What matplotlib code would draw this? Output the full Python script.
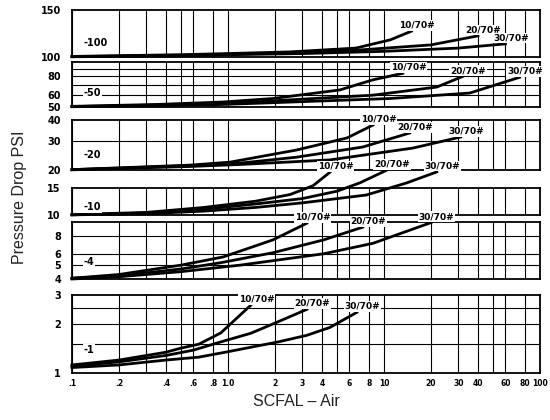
import matplotlib.pyplot as plt
from matplotlib.ticker import FixedLocator, NullFormatter, NullLocator

# curve names (same three in each band)
curve_labels = ['10/70#', '20/70#', '30/70#']

# x axis (log, SCFM air)
x_ticks = [0.1, 0.2, 0.4, 0.6, 0.8, 1, 2, 3, 4, 6, 8, 10, 20, 30, 40, 60, 80, 100]
x_tick_labels = ['.1', '.2', '.4', '.6', '.8', '1.0', '2', '3', '4', '6', '8',
                 '10', '20', '30', '40', '60', '80', '100']

# band 1 (top) : 100 - 150 psi
p1_range = (100, 150)
p1_ticks = [100, 150]
p1_grid = []
p1_name = '100'
p1_x = [[0.1, 0.5, 1.0, 2.5, 6.6, 11, 15],
        [0.1, 0.5, 1.0, 2.5, 6.6, 20, 40],
        [0.1, 0.5, 1.0, 3, 10, 30, 60]]
p1_y = [[100.5, 102, 103, 104.5, 108, 116, 125],
        [100.3, 101.5, 102.5, 103.5, 106, 111, 120],
        [100.2, 101, 102, 103, 105, 108, 112]]

# band 2 : 50 - 100
p2_range = (50, 100)
p2_ticks = [50, 60, 80]
p2_grid = [60, 70, 80, 90]
p2_name = '50'
p2_x = [[0.1, 0.35, 0.93, 1.94, 5.2, 8.5, 13.2],
        [0.1, 0.35, 0.93, 1.94, 8.5, 21.8, 31.9],
        [0.1, 0.35, 0.93, 2, 11, 35.5, 74]]
p2_y = [[50.5, 52, 54, 57, 65, 76, 84],
        [50.3, 51.5, 53, 55, 60, 68, 80],
        [50.2, 51, 52, 53.5, 57, 62, 79]]

# band 3 : 20 - 40
p3_range = (20, 40)
p3_ticks = [20, 30, 40]
p3_grid = [30]
p3_name = '20'
p3_x = [[0.1, 0.57, 1.03, 2.76, 5.8, 8.5],
        [0.1, 0.57, 1.2, 2.76, 7.3, 14.6],
        [0.1, 0.57, 1.2, 4.5, 15.3, 31]]
p3_y = [[20.1, 21.4, 22.3, 26.4, 31.2, 37.3],
        [20.1, 21.2, 22.0, 23.9, 27.5, 33.4],
        [20.05, 21.0, 21.6, 23.0, 27.1, 31.6]]

# band 4 : 10 - 15
p4_range = (10, 15)
p4_ticks = [10, 15]
p4_grid = []
p4_name = '10'
p4_x = [[0.1, 0.3, 0.7, 1.5, 2.5, 3.5, 4.5],
        [0.1, 0.3, 0.7, 1.5, 3.0, 5.0, 7.0, 10.4],
        [0.1, 0.3, 0.7, 1.5, 3.0, 7.7, 14, 21.8]]
p4_y = [[10.05, 10.4, 11.2, 12.3, 13.6, 15.5, 19],
        [10.03, 10.3, 10.9, 11.8, 12.8, 14.3, 16.2, 19.6],
        [10.02, 10.2, 10.6, 11.2, 12.0, 13.5, 16.2, 19.1]]

# band 5 : 4 - 10
p5_range = (4, 10)
p5_ticks = [4, 5, 6, 8]
p5_grid = [5, 6, 8]
p5_name = '4'
p5_x = [[0.1, 0.2, 0.5, 0.93, 1.94, 3.2],
        [0.1, 0.2, 0.5, 0.9, 1.94, 4.1, 7.3],
        [0.1, 0.2, 0.5, 1.2, 4.1, 8.5, 20]]
p5_y = [[4.05, 4.3, 5.0, 5.7, 7.5, 9.8],
        [4.05, 4.2, 4.7, 5.2, 6.1, 7.5, 9.2],
        [4.0, 4.15, 4.5, 5.0, 6.0, 7.1, 9.9]]

# band 6 (bottom) : 1 - 3
p6_range = (1, 3)
p6_ticks = [1, 2, 3]
p6_grid = [1.5, 2, 2.5]
p6_name = '1'
p6_x = [[0.1, 0.2, 0.4, 0.5, 0.65, 0.9, 1.1, 1.4],
        [0.1, 0.2, 0.4, 0.6, 0.9, 1.4, 2.0, 3.2],
        [0.1, 0.2, 0.4, 0.65, 1.0, 2.1, 3.2, 4.5, 6.7]]
p6_y = [[1.12, 1.2, 1.34, 1.42, 1.5, 1.76, 2.1, 2.6],
        [1.1, 1.17, 1.28, 1.38, 1.55, 1.75, 2.02, 2.45],
        [1.08, 1.12, 1.2, 1.25, 1.35, 1.55, 1.7, 1.9, 2.35]]

panels = [
    (p1_range, p1_ticks, p1_grid, p1_name, p1_x, p1_y),
    (p2_range, p2_ticks, p2_grid, p2_name, p2_x, p2_y),
    (p3_range, p3_ticks, p3_grid, p3_name, p3_x, p3_y),
    (p4_range, p4_ticks, p4_grid, p4_name, p4_x, p4_y),
    (p5_range, p5_ticks, p5_grid, p5_name, p5_x, p5_y),
    (p6_range, p6_ticks, p6_grid, p6_name, p6_x, p6_y),
]

# pixel extents of each band (top, bottom) in a 550x420 canvas
W, H = 550, 420
left_px, right_px = 72, 540
bands_px = [(10, 57), (62, 107), (120, 170), (188, 215), (222, 279), (295, 373)]

fig = plt.figure(figsize=(5.5, 4.2), dpi=100)

for i, ((y0, y1), yt, yg, name, xs, ys) in enumerate(panels):
    top, bot = bands_px[i]
    ax = fig.add_axes([left_px / W, 1 - bot / H, (right_px - left_px) / W, (bot - top) / H])
    ax.set_xscale('log')
    ax.set_yscale('log')
    ax.set_xlim(0.1, 100)
    ax.set_ylim(y0, y1)

    # chart paper grid
    ax.xaxis.set_major_locator(FixedLocator(x_ticks))
    ax.xaxis.set_minor_locator(FixedLocator([0.3, 0.5, 5, 50]))
    ax.grid(True, which='both', axis='x', color='black', lw=0.8)
    for g in yg:
        ax.axhline(g, color='black', lw=0.8)

    ax.yaxis.set_major_locator(FixedLocator(yt))
    ax.yaxis.set_minor_locator(NullLocator())
    ax.yaxis.set_minor_formatter(NullFormatter())
    ax.set_yticklabels([str(v) for v in yt], fontsize=7, fontweight='bold')
    ax.tick_params(axis='y', length=0, pad=8)
    ax.tick_params(axis='x', which='both', length=0)

    if i == len(panels) - 1:
        ax.set_xticklabels(x_tick_labels, fontsize=5.5, fontweight='bold')
        ax.tick_params(axis='x', pad=4)
    else:
        ax.set_xticklabels([])
    ax.xaxis.set_minor_formatter(NullFormatter())

    for s in ax.spines.values():
        s.set_linewidth(1.3)
        s.set_color('black')

    for cx, cy, lab in zip(xs, ys, curve_labels):
        ax.plot(cx, cy, color='black', lw=2.0, clip_on=False, zorder=3)
        ax.annotate(lab, (cx[-1], cy[-1]), xytext=(4, 1), textcoords='offset points',
                    ha='center', va='bottom', fontsize=6.5, fontweight='bold',
                    annotation_clip=False, zorder=4,
                    bbox=dict(boxstyle='square,pad=0.1', fc='white', ec='none'))

    ax.text(0.025, 0.3, '-' + name, transform=ax.transAxes, fontsize=7,
            fontweight='bold', ha='left', va='center',
            bbox=dict(boxstyle='square,pad=0.1', fc='white', ec='none'), zorder=4)

fig.text(20 / W, 1 - 197 / H, 'Pressure Drop PSI', rotation=90, ha='center', va='center',
         fontsize=11.5, color='#222222', family='Liberation Sans')
fig.text(296 / W, 1 - 402 / H, 'SCFAL \u2013 Air', ha='center', va='center',
         fontsize=11.5, color='#222222', family='Liberation Sans')

fig.savefig('out.png', dpi=100)
